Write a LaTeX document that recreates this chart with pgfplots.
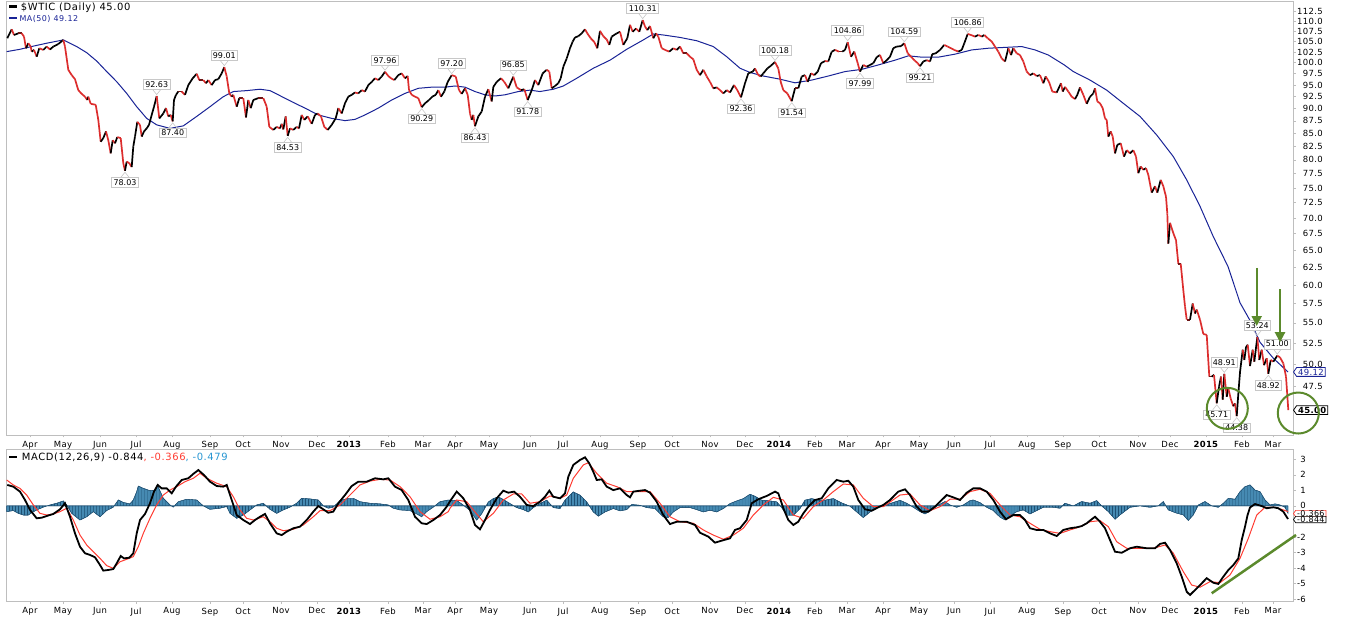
\documentclass[border=0pt]{standalone}
\usepackage{pgfplots}
\pgfplotsset{compat=1.18}
\usepackage{pgfplotstable}
\usepackage{fontspec}
\setmainfont{DejaVu Sans}
\newfontfamily\legfam[LetterSpace=6]{DejaVu Sans}
\newfontfamily\ticfam[LetterSpace=4]{DejaVu Sans}
\usetikzlibrary{shapes.symbols,arrows.meta,patterns}

\definecolor{axisgray}{RGB}{190,190,190}
\definecolor{lblgray}{RGB}{200,200,200}
\definecolor{pricered}{RGB}{220,45,45}
\definecolor{manavy}{RGB}{25,35,150}
\definecolor{sigred}{RGB}{255,60,50}
\definecolor{histblue}{RGB}{70,138,178}
\definecolor{histdark}{RGB}{30,80,115}
\definecolor{histlbl}{RGB}{40,150,210}
\definecolor{anngreen}{RGB}{91,138,44}

\newcommand{\ticfont}{\ticfam\fontsize{8.5}{10}\selectfont}
\newcommand{\legfont}{\legfam\fontsize{10}{12}\selectfont}
\newcommand{\lblfont}{\fontsize{8}{9.6}\selectfont}

\pgfplotstableread{
x y
7.3 105.8
11.7 108.0
14 106.6
18.3 107.0
21.7 107.0
24 106.2
26 103.4
28.3 104.6
30.7 103.8
31.7 102.6
34 103.0
36.7 101.4
39.3 103.4
43.3 103.0
46.7 103.8
50 103.1
53.3 103.8
58.3 104.4
63.3 105.4
65 103.8
68.3 98.4
71.7 97.2
75 96.3
78.3 93.9
81.7 93.1
85 92.5
87.3 91.8
88.3 92.5
90.7 91.0
95.7 90.8
98.3 87.7
100.7 83.4
103.3 84.1
106 85.4
108.3 83.7
110.7 81.2
112.7 83.7
115 83.1
117.3 84.3
120.7 84.1
123.3 79.4
125 78.03
126.7 79.7
129.3 79.4
131.7 78.7
133.3 82.5
135 84.4
137.3 87.3
140 86.7
141.7 84.4
144 85.4
146.7 86.0
149 86.7
151.7 88.7
154 90.4
156.7 92.63
159.3 88.0
163.3 89.0
166 90.1
168.3 88.4
170.7 88.7
172.7 87.40
174 91.8
176 92.9
178.3 93.6
181.7 93.6
185 92.9
188.3 95.0
192.7 96.5
196.7 97.5
199.3 96.1
203.3 96.1
206 95.4
208.3 96.1
211.7 95.0
215 96.1
218.3 96.3
221.7 97.6
224.3 99.01
226.7 96.9
229.3 93.2
231.7 92.5
233.3 92.9
236.7 90.4
239.3 92.2
243.3 92.2
246 88.2
248.3 91.8
250.7 90.1
253.3 91.8
258.3 92.2
263.3 92.2
266.7 90.4
269.3 86.3
273.3 85.7
276.7 86.3
280 86.0
281.7 86.9
283.3 85.8
285.7 88.4
287.7 84.53
290 86.0
293.3 85.7
296.7 86.3
299 86.0
301.7 88.7
304.3 87.7
307.7 88.4
311.7 86.9
315 88.7
317.7 89.0
321 88.4
324.3 86.3
327.7 85.7
331.7 86.7
335.7 88.0
338.3 90.1
341.7 89.0
345 91.1
348.3 92.5
351.7 92.9
355 93.4
358.3 93.2
361.7 93.9
365 93.6
368.3 95.0
371.7 95.7
375 96.5
378.3 96.1
381.7 96.9
385 97.96
388.3 97.0
391 96.5
394.3 96.1
398.3 97.2
401.7 97.6
405 96.5
407.7 97.0
409 93.9
411.7 92.9
415 92.5
418.3 92.2
421.7 90.29
425 91.1
429 91.8
432.3 92.5
435.7 92.9
438.3 93.9
441 92.5
444.3 93.6
447.7 95.7
451.7 97.20
455.7 96.9
459 93.9
461.7 93.1
465 94.3
467.7 92.9
470 89.0
471.7 87.7
473.3 88.7
475 86.43
478.3 88.4
481.7 89.4
485 92.5
488.3 94.1
491.7 91.5
493.3 94.6
496.7 95.7
501 96.5
504.3 95.7
508.3 94.3
513.3 96.85
516.7 94.5
521 93.9
524.3 94.1
527.7 91.78
531.7 93.9
535 96.1
538.3 95.0
542.7 97.6
546.7 98.4
549.3 98.0
551.7 94.3
555 94.8
558.3 95.4
560.7 96.5
563.3 99.1
566.7 101.0
570 103.4
572.7 105.0
575 106.0
578.3 106.3
581.7 107.0
585 108.0
587.3 107.0
590.7 105.8
594 105.0
597.3 103.4
600 107.6
603.3 106.3
606.7 105.5
609.3 104.2
611.7 106.2
616.7 107.0
620 107.4
623.3 104.2
627.3 105.8
630 109.1
632.7 107.4
636 108.2
639.3 107.4
642.7 110.31
645 108.7
647.3 107.8
650 108.8
653.3 105.8
656 107.0
658.3 106.2
661.7 103.4
665 103.0
669.3 102.6
673.3 103.4
676.7 103.0
680 103.8
683.3 102.2
686.7 102.2
690 101.4
693.3 100.8
696.7 98.4
700 97.2
703.3 98.4
706.7 96.9
710 95.7
713.3 94.3
716.7 94.5
720 93.9
723.3 93.2
726.7 93.9
730 93.4
734 95.0
737.3 93.9
741 92.36
745 95.4
748.3 97.6
752.7 98.0
755 98.7
758.3 97.2
760.7 96.9
763.3 97.6
767.3 98.7
770.7 99.3
775 100.18
778.3 98.7
780.7 95.7
783.3 93.9
787.3 93.2
791.7 91.54
795 94.3
798.3 94.3
801.7 96.9
805 97.2
807.7 95.7
811 97.6
814.3 97.2
817.7 98.0
821 99.9
825 100.4
828.3 100.3
831.7 102.6
835 103.0
839 102.6
842.3 102.6
845 103.0
847.7 104.86
851 101.4
854.3 102.6
857.7 99.9
860 97.99
863.3 99.5
866.7 99.1
870 99.5
873.3 99.9
876.7 101.3
880 101.8
883.3 99.9
886.7 100.6
890 101.4
893.3 103.4
896.7 103.8
901 103.9
904.3 104.59
907.7 102.2
911 101.4
914.3 100.6
917.7 99.9
920 99.21
923.3 100.3
926.7 100.6
930 100.3
932.3 102.0
935.7 102.2
940 103.0
944.3 104.2
947.7 103.8
951 103.4
954.3 103.0
958.3 102.6
961.7 103.0
964.3 104.6
967.7 106.86
971 106.6
975 106.2
978.3 106.6
981.7 106.2
984.3 106.6
987.7 105.8
991.7 105.0
995 103.8
998.3 102.6
1001.7 101.0
1005 100.3
1008.3 103.4
1011 101.8
1013.3 103.4
1016.7 102.2
1020 101.8
1023.3 100.3
1026.7 98.0
1030 97.2
1033.3 97.6
1036.7 97.0
1040 97.2
1043.3 95.4
1045.7 96.9
1049 95.7
1052.3 93.6
1056.7 93.4
1061 95.4
1062.7 93.6
1065 94.6
1068.3 93.6
1071.7 92.5
1075 92.0
1077.3 92.9
1080 94.5
1083.3 92.9
1086.7 91.0
1090 92.5
1093.3 93.2
1095 94.3
1097.3 91.5
1100 91.1
1102.7 90.1
1105 88.0
1106.7 87.7
1108.3 84.4
1110.7 85.4
1112.7 84.4
1115 81.2
1117.3 82.8
1120.7 83.1
1124 80.6
1126.7 81.8
1130 81.2
1133.3 81.8
1136 80.6
1138.3 77.6
1140.7 78.8
1143.3 78.2
1146 78.5
1148.3 77.3
1151.7 74.2
1155 75.3
1157.3 74.2
1160.7 76.4
1163.3 75.3
1166 73.5
1167.3 70.7
1168.3 66.0
1170 69.2
1173.3 67.6
1176 66.5
1178.3 63.0
1180.7 63.0
1183.3 59.3
1185 57.1
1186.7 55.4
1190 55.4
1192.7 57.5
1195 56.2
1196.7 56.7
1200 55.4
1203.3 53.6
1206.7 53.5
1209.3 48.6
1211.7 48.6
1214 48.8
1216.7 45.71
1219 47.5
1221 48.6
1222.7 46.1
1224.3 48.91
1226.7 46.4
1228.3 47.3
1230.7 46.2
1233.3 45.4
1235 45.7
1236.7 44.38
1238.3 46.7
1240 49.1
1242.7 51.7
1244.3 50.5
1246 52.0
1247.7 52.3
1250 49.8
1252.7 51.7
1254.3 50.3
1257.3 53.24
1259.3 50.5
1261.7 51.7
1264 49.9
1266.7 50.7
1268.3 48.92
1270.7 50.5
1273.3 50.3
1277.3 51.00
1280 50.8
1283.3 50.1
1286 48.6
1288.3 45.00
}\pricetbl
\pgfplotstablecreatecol[create col/expr={\nextrow{y}-\thisrow{y}}]{d}{\pricetbl}

\pgfplotstableread{
x y
6.7 102.6
20 103.15
33.3 103.9
46.7 104.6
63.3 105.4
76.7 103.8
86.7 102.35
96.7 100.4
106.7 98.0
116.7 95.75
126.7 93.2
136.7 90.4
146.7 88.0
156.7 86.7
170 86.0
183.3 86.5
196.7 88.4
210 90.4
223.3 92.5
233.3 93.6
246.7 93.8
260 94.1
270 93.8
278.3 92.9
291.7 91.45
305 90.1
318.3 88.7
331.7 88.0
345 87.55
355 87.8
365 88.7
378.3 90.1
391.7 91.8
405 93.2
418.3 94.3
431.7 94.55
445 94.55
455 94.8
465 94.55
475 93.6
485 92.9
495 92.65
505 92.9
518.3 93.6
530 93.9
540 93.6
553.3 94.1
563.3 94.8
576.7 96.5
593.3 98.75
610 100.6
626.7 103.15
643.3 105.4
653.3 106.85
663.3 106.6
680 106.0
696.7 105.2
713.3 103.8
726.7 101.4
740 98.75
750 97.8
763.3 97.0
780 96.3
795 95.5
811.7 96.1
828.3 97.0
845 98.0
861.7 98.5
878.3 99.5
895 100.6
908.3 101.6
921.7 101.3
938.3 101.3
955 102.0
971.7 103.0
988.3 103.4
1005 103.6
1021.7 103.8
1035 103.0
1048.3 101.8
1064.3 99.5
1073.3 98.0
1090 96.1
1106.7 93.9
1123.3 91.1
1140 88.4
1156.7 84.7
1173.3 80.6
1186.7 76.4
1200 71.9
1213.3 67.05
1228 62.6
1240 57.6
1250 55.3
1260 52.6
1273.3 50.7
1288 49.12
}\matbl

\pgfplotstableread{
x y
7.3 1.35
13.3 1.24
20 0.92
25 0.38
30 -0.26
36.7 -0.80
41.7 -0.76
46.7 -0.65
53.3 -0.52
60 -0.22
65 0.17
70 -0.70
75 -1.77
80 -2.63
85 -3.05
90 -3.16
95 -3.31
100 -3.81
103.3 -4.17
108.3 -4.13
113.3 -4.07
116.7 -3.70
120.7 -3.23
124 -3.38
129.3 -3.34
133.3 -3.05
136.7 -1.77
140 -0.91
145 -0.52
150 0.17
154 0.92
157.7 1.35
161.7 1.13
166.7 1.13
171.7 0.81
176 1.24
181.7 1.67
188.3 1.78
193.3 2.06
198.3 2.31
204 1.99
210 1.56
216.7 1.28
223.3 1.24
226.7 1.35
231.7 0.38
236.7 -0.59
243.3 -0.91
250 -1.17
255 -0.91
260 -0.70
265 -0.52
270 -1.12
276.7 -1.77
281.7 -1.88
286.7 -1.66
293.3 -1.44
300 -1.34
306.7 -0.91
313.3 -0.37
318.3 -0.01
323.3 -0.22
328.3 -0.44
333.3 -0.37
338.3 0.17
345 0.70
351.7 1.28
358.3 1.56
366.7 1.56
375 1.78
383.3 1.71
388.3 1.78
395 1.24
401.7 1.02
408.3 0.38
415 -0.70
421.7 -1.12
426.7 -1.17
433.3 -0.91
440 -0.59
446.7 -0.05
450 0.30
456.7 0.92
463.3 0.49
470 -0.26
475 -1.23
480 -1.51
485 -0.91
490 -0.26
496.7 0.49
503.3 0.98
508.3 0.85
514 0.92
520 0.59
526.7 0.06
533.3 -0.01
540 0.27
545 0.59
549.3 0.98
553.3 0.59
560 0.49
565 0.81
568.3 1.88
573.3 2.64
580 2.96
585 3.13
589.3 2.74
593.3 2.20
596.7 1.67
601.7 1.71
606.7 1.24
613.3 1.02
620 1.13
626.7 0.70
630 0.55
633.3 0.92
640 0.98
645 1.02
650 0.85
656.7 0.27
663.3 -0.59
670 -1.17
676.7 -1.02
686.7 -1.02
695 -1.23
700 -1.73
708.3 -1.98
715 -2.37
721.7 -2.24
730 -2.09
735 -1.55
740 -1.44
746.7 -0.91
751.7 0.17
758.3 0.43
766.7 0.64
775 0.92
778.3 0.81
783.3 -0.15
788.3 -0.91
793.3 -1.23
798.3 -1.02
803.3 -0.48
808.3 -0.05
815 0.38
821.7 0.49
828.3 1.13
836.7 1.67
843.3 1.56
848.3 1.62
853.3 1.24
858.3 0.38
865 -0.22
871.7 -0.31
878.3 -0.09
883.3 0.06
890 0.38
898.3 0.92
905 1.07
910 0.70
916.7 -0.05
921.7 -0.37
928.3 -0.37
935 -0.05
941.7 0.38
946.7 0.70
953.3 0.55
960 0.38
966.7 0.85
973.3 1.13
980 1.13
986.7 0.92
993.3 0.38
1000 -0.37
1006 -0.86
1013.3 -0.59
1020 -0.59
1025 -0.91
1030 -1.44
1036.7 -1.55
1043.3 -1.55
1050 -1.77
1056.7 -1.94
1063.3 -1.55
1070 -1.44
1076.7 -1.38
1081.7 -1.30
1086.7 -1.12
1091.7 -0.86
1095 -0.70
1100 -1.02
1105 -1.44
1110 -2.20
1115 -2.95
1121.7 -3.02
1130 -2.73
1136.7 -2.63
1146.7 -2.73
1155 -2.73
1160 -2.45
1165 -2.37
1170 -2.84
1176.7 -3.70
1181.7 -4.56
1186.7 -5.53
1190 -5.74
1195 -5.42
1200 -5.10
1206.7 -4.66
1213.3 -4.95
1218.3 -5.03
1223.3 -4.56
1228.3 -4.13
1233.3 -3.81
1238.3 -3.38
1241.7 -2.20
1245 -1.34
1247.5 -0.60
1250 -0.10
1255 0.12
1261.7 -0.01
1266.7 -0.15
1273.3 -0.09
1278.3 -0.15
1283.3 -0.37
1288 -0.844
}\macdtbl

\pgfplotstableread{
x y
6.7 1.67
13.3 1.35
20 1.13
26.7 0.70
33.3 0.06
40 -0.48
46.7 -0.59
53.3 -0.52
60 -0.37
66.7 -0.15
73.3 -0.91
80 -1.88
86.7 -2.52
93.3 -2.95
100 -3.38
106.7 -3.85
113.3 -4.02
120 -3.60
126.7 -3.44
133.3 -3.27
138.3 -2.63
143.3 -1.77
150 -0.80
156.7 0.06
163.3 0.70
170 1.02
176.7 1.24
185 1.56
193.3 1.78
200 2.10
206.7 1.78
216.7 1.46
226.7 1.24
233.3 0.59
240 -0.26
246.7 -0.80
253.3 -0.91
263.3 -0.70
270 -1.02
276.7 -1.44
283.3 -1.60
293.3 -1.51
303.3 -1.23
313.3 -0.70
320 -0.31
330 -0.31
340 0.06
350 0.70
360 1.35
370 1.60
380 1.71
390 1.67
400 1.24
410 0.59
420 -0.37
430 -0.86
440 -0.70
448.3 -0.37
450 -0.15
456.7 0.38
466.7 0.27
473.3 -0.26
483.3 -1.02
493.3 -0.48
503.3 0.38
513.3 0.77
521.7 0.77
530 0.17
540 0.27
550 0.64
560 0.49
566.7 0.70
573.3 1.78
583.3 2.64
588.3 2.78
596.7 2.10
606.7 1.46
616.7 1.24
626.7 0.92
636.7 0.92
650 0.92
660 0.17
670 -0.70
680 -1.02
693.3 -1.12
703.3 -1.55
713.3 -1.88
723.3 -2.15
733.3 -1.88
743.3 -1.44
753.3 -0.59
763.3 0.06
773.3 0.55
783.3 0.38
793.3 -0.59
803.3 -0.80
813.3 -0.05
823.3 0.38
833.3 0.92
843.3 1.41
853.3 1.35
863.3 0.49
873.3 -0.05
883.3 -0.05
900 0.70
910 0.77
920 0.06
930 -0.31
940 -0.05
950 0.43
960 0.43
970 0.92
980 1.07
990 0.81
1000 0.06
1010 -0.59
1020 -0.70
1030 -1.12
1040 -1.51
1050 -1.66
1060 -1.77
1070 -1.55
1080 -1.34
1090 -1.02
1100 -0.95
1108.3 -1.34
1116.7 -2.31
1126.7 -2.73
1140 -2.73
1153.3 -2.73
1165 -2.52
1173.3 -3.05
1183.3 -4.24
1191.7 -5.10
1200 -5.24
1210 -4.88
1220 -4.95
1230 -4.45
1240 -3.38
1248.3 -2.09
1256.7 -0.59
1265 -0.09
1275 -0.09
1283.3 -0.26
1288 -0.366
}\sigtbl

\pgfplotstableread{
x y
6.7 -0.37
13.3 -0.30
18.3 -0.48
23.3 -0.59
28.3 -0.59
31.7 -0.44
36.7 -0.26
43.3 -0.08
50 0.06
56.7 0.17
63.3 0.32
66.7 0.06
71.7 -0.48
80 -0.91
86.7 -0.70
93.3 -0.37
100 -0.70
106.7 -0.30
113.3 -0.08
118.3 0.38
123.3 0.22
130 0.13
133.3 0.38
136.7 0.92
138.3 1.28
143.3 1.13
150 0.98
155 1.02
157.3 1.35
163.3 0.49
170 0.06
173.3 -0.08
178.3 0.27
186.7 0.43
196.7 0.38
203.3 0
210 -0.22
220 -0.15
226.7 -0.04
230 -0.48
236.7 -0.80
243.3 -0.59
250 -0.26
256.7 0.06
263.3 0.17
270 -0.22
276.7 -0.48
283.3 -0.26
290 -0.08
296.7 0.17
301.7 0.49
310 0.45
318.3 0.38
323.3 0
328.3 -0.15
333.3 -0.08
340 0.34
348.3 0.49
353.3 0.49
360 0.27
370 0.17
380 0.13
388.3 0.06
393.3 -0.15
400 -0.26
410 -0.30
416.7 -0.52
421.7 -0.70
426.7 -0.37
433.3 -0.08
440 0.27
448.3 0.38
456.7 0.35
463.3 0.05
470 -0.30
476.7 -0.92
481.7 -0.50
488.3 0.25
493.3 0.47
498.3 0.58
503.3 0.41
510 0.15
516.7 -0.11
523.3 -0.24
528.3 -0.39
533.3 -0.11
540 0.15
546.7 0.37
553.3 -0.11
560 -0.17
565 0.37
573.3 0.90
580 0.69
586.7 0.26
593.3 -0.39
598.3 -0.66
605 -0.39
613.3 -0.17
620 -0.32
626.7 -0.24
631.7 0.09
640 0.04
646.7 -0.11
655 -0.17
663.3 -0.71
668.3 -0.75
673.3 -0.39
680 -0.11
690 -0.11
696.7 -0.24
703.3 -0.39
710 -0.28
716.7 -0.39
723.3 -0.17
730 0.15
736.7 0.32
743.3 0.47
750 0.75
755 0.62
761.7 0.37
770 0.32
776.7 0.26
781.7 -0.11
786.7 -0.60
793.3 -0.60
800 -0.17
805 0.37
811.7 0.47
818.3 0.37
825 0.37
833.3 0.47
841.7 0.19
850 -0.02
856.7 -0.39
863.3 -0.75
870 -0.39
876.7 -0.11
883.3 0.04
890 0.15
900 0.36
906.7 0.17
913.3 -0.09
920 -0.37
925 -0.52
931.7 -0.26
938.3 0.06
945 0.28
950 0.06
956.7 -0.09
963.3 0.06
970 0.34
973.3 0.38
980 0.21
986.7 -0.09
993.3 -0.30
1000 -0.73
1005 -0.90
1010 -0.64
1016.7 -0.37
1023.3 -0.26
1030 -0.52
1036.7 -0.30
1043.3 -0.09
1053.3 -0.09
1060 -0.15
1065 0.17
1073.3 0
1081.7 0.28
1090 0.17
1096.7 0.34
1101.7 0
1108.3 -0.37
1115 -0.86
1120 -0.58
1130 -0.09
1140 0
1150 -0.09
1158.3 0
1163.3 0.28
1168.3 -0.26
1176.7 -0.47
1183.3 -0.58
1188.3 -0.94
1193.3 -0.58
1198.3 0.06
1205 0.28
1211.7 0
1218.3 -0.09
1223.3 0.17
1228.3 0.49
1235 0.43
1240 0.92
1245 1.24
1250 1.35
1255 1.02
1260 0.92
1265 0.38
1270 0.06
1275 0.13
1280 0.06
1285 -0.09
1288 -0.479
}\histtbl

\tikzset{
 lbl/.style={draw=lblgray, fill=white, line width=0.6bp, font=\lblfont, inner xsep=2bp, inner ysep=1.8bp},
 tag/.style={shape=signal, signal to=west, signal pointer angle=110, fill=white, anchor=west,
   font=\ticfont, inner xsep=1.5bp, inner ysep=1.2bp, line width=0.8bp},
 mtag/.style={tag, font=\ticfam\fontsize{8}{9}\selectfont, inner ysep=0.2bp, line width=0.7bp},
}
\newcommand\hil[2]{%
  \draw[lblgray,line width=0.6bp] ([xshift=-4bp,yshift=6.5bp]axis cs:#1,#2) -- ([yshift=1.5bp]axis cs:#1,#2) -- ([xshift=4bp,yshift=6.5bp]axis cs:#1,#2);
  \node[lbl,anchor=south] at ([yshift=6.5bp]axis cs:#1,#2) {#2};}
\newcommand\lol[2]{%
  \draw[lblgray,line width=0.6bp] ([xshift=-4bp,yshift=-6.5bp]axis cs:#1,#2) -- ([yshift=-1.5bp]axis cs:#1,#2) -- ([xshift=4bp,yshift=-6.5bp]axis cs:#1,#2);
  \node[lbl,anchor=north] at ([yshift=-6.5bp]axis cs:#1,#2) {#2};}

\pgfplotsset{
 chart/.style={
  scale only axis, width=1287bp, xmin=6, xmax=1293, clip=false,
  axis line style={axisgray, line width=0.8bp},
  tick style={axisgray, line width=0.6bp},
  tick align=outside, major tick length=2.5bp,
  xtick pos=left, ytick pos=right, yticklabel pos=right,
  minor tick num=0,
  xtick={30,63,100,136,172,210,243,281,317,349,388,423,455,489,530,563,600,638,672,710,745,779,815,847,883,919,954,990,1027,1063,1099,1138,1170,1206,1242,1273},
  xticklabels={Apr,May,Jun,Jul,Aug,Sep,Oct,Nov,Dec,\textbf{2013},Feb,Mar,Apr,May,Jun,Jul,Aug,Sep,Oct,Nov,Dec,\textbf{2014},Feb,Mar,Apr,May,Jun,Jul,Aug,Sep,Oct,Nov,Dec,\textbf{2015},Feb,Mar},
  ticklabel style={font=\ticfont, text=black},
  /pgf/number format/assume math mode=true,
 }
}

\begin{document}
\begin{tikzpicture}
\useasboundingbox (0,0) rectangle (1345bp,619bp);

% ---------- price panel ----------
\begin{axis}[chart, at={(6bp,184bp)}, anchor=south west, height=434bp,
  ymode=log, ymin=42.5, ymax=115.27, yminorticks=false,
  ytick={47.5,50,52.5,55,57.5,60,62.5,65,67.5,70,72.5,75,77.5,80,82.5,85,87.5,90,92.5,95,97.5,100,102.5,105,107.5,110,112.5},
  yticklabels={47.5,50.0,52.5,55.0,57.5,60.0,62.5,65.0,67.5,70.0,72.5,75.0,77.5,80.0,82.5,85.0,87.5,90.0,92.5,95.0,97.5,100.0,102.5,105.0,107.5,110.0,112.5},
  yticklabel style={anchor=east, inner sep=0bp, xshift=27.5bp},
  ]
\addplot[manavy, line width=1bp] table[x=x,y=y] {\matbl};
\addplot[mesh, shader=flat corner, line width=1.7bp, point meta=explicit,
  point meta min=-0.01, point meta max=0.01,
  colormap={updown}{color=(pricered) color=(black)}] table[x=x,y=y,meta=d] {\pricetbl};

\lol{125}{78.03}
\hil{156.7}{92.63}
\lol{172.7}{87.40}
\hil{224.3}{99.01}
\lol{287.7}{84.53}
\hil{385}{97.96}
\lol{421.7}{90.29}
\hil{451.7}{97.20}
\lol{475}{86.43}
\hil{513.3}{96.85}
\lol{527.7}{91.78}
\hil{642.7}{110.31}
\lol{741}{92.36}
\hil{775}{100.18}
\lol{791.7}{91.54}
\hil{847.7}{104.86}
\lol{860}{97.99}
\hil{904.3}{104.59}
\lol{920}{99.21}
\hil{967.7}{106.86}
\hil{1224.3}{48.91}
\lol{1216.7}{45.71}
\lol{1236.7}{44.38}
\hil{1257.3}{53.24}
\hil{1277.3}{51.00}
\lol{1268.3}{48.92}

\node[tag, draw=manavy, text=manavy] at (axis cs:1293,49.12) {49.12};
\node[tag, draw=black, text=black, font=\ticfont\bfseries] at (axis cs:1293,45.00) {45.00};

\draw[anngreen, line width=2bp] (axis cs:1227.3,45.18) circle[radius=20.5bp];
\draw[anngreen, line width=2bp] (axis cs:1298.3,44.7) circle[radius=20.5bp];
\draw[anngreen, line width=2bp, -{Triangle[width=10bp,length=10bp]}] (axis cs:1256.7,62.4) -- (axis cs:1256.7,54.6);
\draw[anngreen, line width=2bp, -{Triangle[width=10bp,length=10bp]}] (axis cs:1280,59.4) -- (axis cs:1280,52.6);
\end{axis}

% ---------- MACD panel ----------
\begin{axis}[chart, at={(6bp,17.3bp)}, anchor=south west, height=152.2bp,
  ymin=-6.173, ymax=3.634,
  ytick={-6,-5,-4,-3,-2,0,1,2,3},
  yticklabels={-6,-5,-4,-3,-2,0,1,2,3},
  yticklabel style={anchor=east, inner sep=0bp, xshift=10.5bp},
  ]
\addplot[fill=histblue, draw=histdark, line width=0.4bp,
  postaction={pattern=vertical lines, pattern color=histdark}] table[x=x,y=y] {\histtbl} \closedcycle;
\addplot[sigred, line width=1bp] table[x=x,y=y] {\sigtbl};
\addplot[black, line width=1.8bp] table[x=x,y=y] {\macdtbl};

\node[mtag, draw=sigred, text=black, yshift=-2bp] at (axis cs:1293,-0.366) {-0.366};
\node[mtag, draw=black, text=black, yshift=-0.6bp] at (axis cs:1293,-0.844) {-0.844};

\draw[anngreen, line width=2.5bp] (axis cs:1211.7,-5.63) -- (axis cs:1296,-1.875);
\end{axis}

% ---------- legends ----------
\draw[black, line width=2.5bp] (9.3bp,612.3bp) -- (17.3bp,612.3bp);
\node[anchor=base west, inner sep=0, font=\legfont] at (20.7bp,608bp) {\$WTIC (Daily) 45.00};
\draw[manavy, line width=2bp] (9.3bp,600.7bp) -- (17.3bp,600.7bp);
\node[anchor=base west, inner sep=0, text=manavy, font=\legfam\fontsize{8}{10}\selectfont] at (19.3bp,597.3bp) {MA(50) 49.12};
\draw[black, line width=2.5bp] (9.3bp,162bp) -- (17.3bp,162bp);
\node[anchor=base west, inner sep=0, font=\legfont] at (21.7bp,158.3bp) {MACD(12,26,9) -0.844\textcolor{sigred}{, -0.366}\textcolor{histlbl}{, -0.479}};
\end{tikzpicture}
\end{document}
